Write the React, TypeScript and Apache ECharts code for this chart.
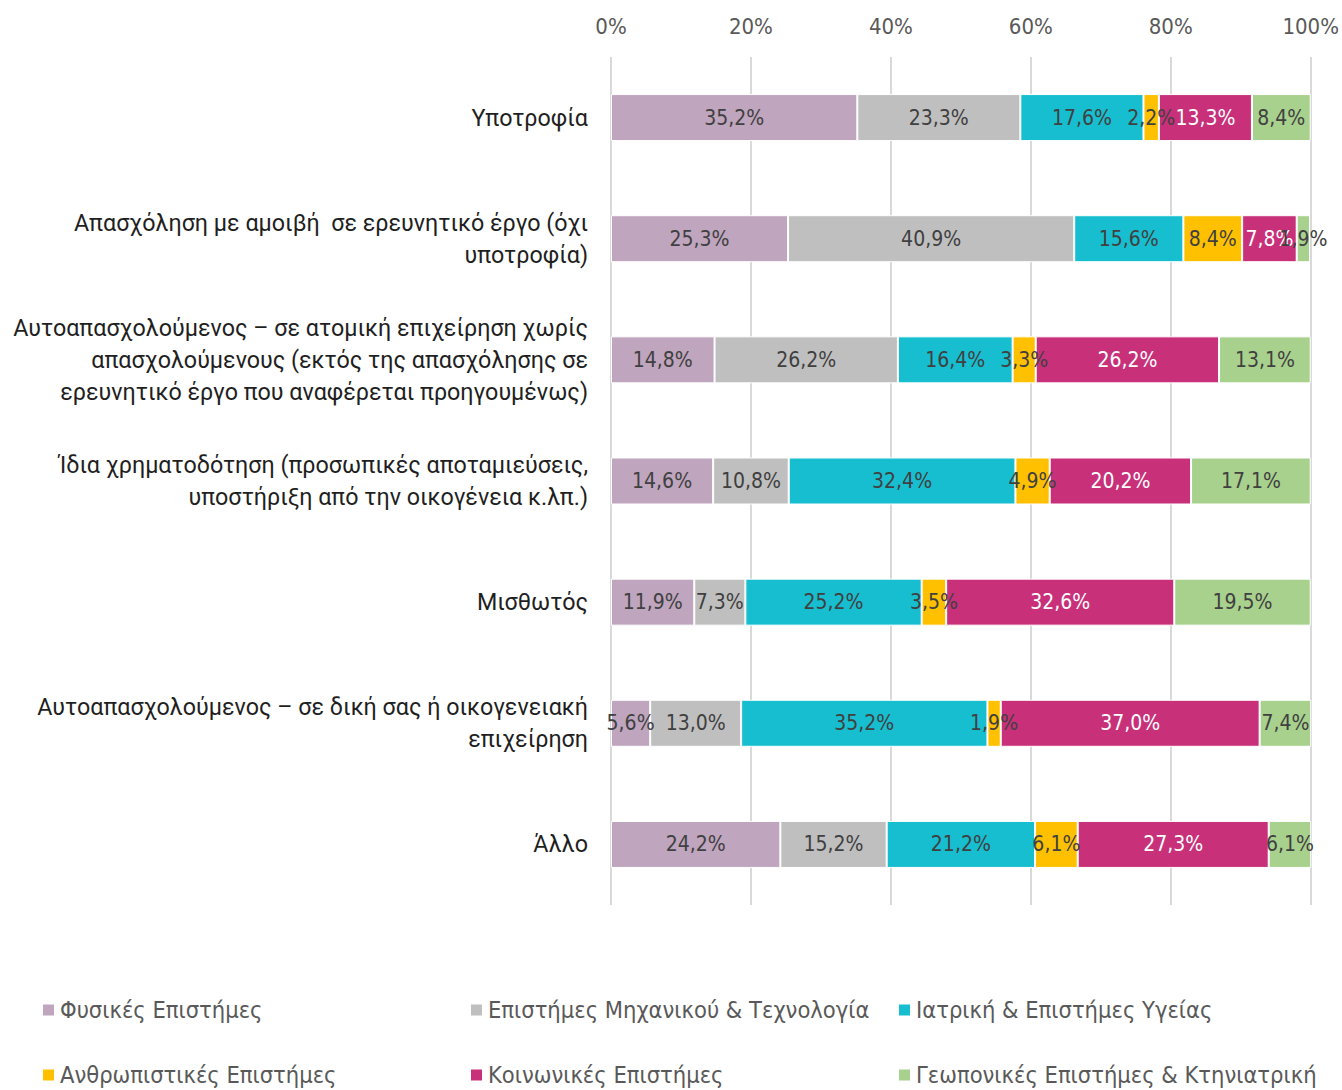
import React, { useEffect, useRef } from "react";
import * as echarts from "echarts";

const categories = [
  "Υποτροφία",
  "Απασχόληση με αμοιβή  σε ερευνητικό έργο (όχι\nυποτροφία)",
  "Αυτοαπασχολούμενος – σε ατομική επιχείρηση χωρίς\nαπασχολούμενους (εκτός της απασχόλησης σε\nερευνητικό έργο που αναφέρεται προηγουμένως)",
  "Ίδια χρηματοδότηση (προσωπικές αποταμιεύσεις,\nυποστήριξη από την οικογένεια κ.λπ.)",
  "Μισθωτός",
  "Αυτοαπασχολούμενος – σε δική σας ή οικογενειακή\nεπιχείρηση",
  "Άλλο",
];

const seriesNames = [
  "Φυσικές Επιστήμες",
  "Επιστήμες Μηχανικού & Τεχνολογία",
  "Ιατρική & Επιστήμες Υγείας",
  "Ανθρωπιστικές Επιστήμες",
  "Κοινωνικές Επιστήμες",
  "Γεωπονικές Επιστήμες & Κτηνιατρική",
];

const physical = [35.2, 25.3, 14.8, 14.6, 11.9, 5.6, 24.2];
const engineering = [23.3, 40.9, 26.2, 10.8, 7.3, 13.0, 15.2];
const medical = [17.6, 15.6, 16.4, 32.4, 25.2, 35.2, 21.2];
const humanities = [2.2, 8.4, 3.3, 4.9, 3.5, 1.9, 6.1];
const social = [13.3, 7.8, 26.2, 20.2, 32.6, 37.0, 27.3];
const agricultural = [8.4, 1.9, 13.1, 17.1, 19.5, 7.4, 6.1];

const seriesValues = [physical, engineering, medical, humanities, social, agricultural];
const colors = ["#BFA5BE", "#BFBFBF", "#17BECF", "#FFC000", "#C8307A", "#A9D18E"];
const labelColors = ["#404040", "#404040", "#404040", "#404040", "#FFFFFF", "#404040"];

const xTicks = [0, 20, 40, 60, 80, 100];

const condensed = "'DejaVu Sans Condensed', 'Roboto', sans-serif";

export default function App() {
  const ref = useRef<HTMLDivElement>(null);
  useEffect(() => {
    if (!ref.current) return;
    const chart = echarts.init(ref.current, null, { renderer: "svg" });
    const legendPos = [
      [41, 998],
      [469, 998],
      [897, 998],
      [41, 1063],
      [469, 1063],
      [897, 1063],
    ];
    chart.setOption({
      animation: false,
      backgroundColor: "#FFFFFF",
      grid: { left: 611, right: 28, top: 57, bottom: 185, containLabel: false },
      xAxis: {
        type: "value",
        position: "top",
        min: xTicks[0],
        max: xTicks[xTicks.length - 1],
        interval: 20,
        axisLine: { show: false },
        axisTick: { show: false },
        axisLabel: {
          formatter: "{value}%",
          fontSize: 22,
          color: "#595959",
          fontFamily: condensed,
          margin: 20,
        },
        splitLine: { show: true, lineStyle: { color: "#D9D9D9", width: 2 } },
      },
      yAxis: {
        type: "category",
        inverse: true,
        data: categories,
        axisLine: { show: false },
        axisTick: { show: false },
        axisLabel: {
          fontSize: 23.3,
          color: "#1F1F1F",
          lineHeight: 32,
          margin: 23,
          align: "right",
          fontFamily: "Roboto, 'Noto Sans', sans-serif",
        },
      },
      legend: seriesNames.map((n, i) => ({
        data: [n],
        left: legendPos[i][0],
        top: legendPos[i][1],
        icon: "rect",
        itemWidth: 13,
        itemHeight: 13,
        itemGap: 4,
        padding: 0,
        textStyle: { fontSize: 23.5, color: "#595959", fontFamily: condensed },
      })),
      series: seriesNames.map((n, i) => ({
        name: n,
        type: "bar",
        stack: "total",
        barWidth: 47,
        data: seriesValues[i],
        itemStyle: { color: colors[i], borderColor: "#FFFFFF", borderWidth: 1 },
        label: {
          show: true,
          position: "inside",
          color: labelColors[i],
          fontSize: 21,
          fontFamily: condensed,
          formatter: (p: any) => p.value.toFixed(1).replace(".", ",") + "%",
        },
      })),
    });
    return () => chart.dispose();
  }, []);
  return (
    <div
      ref={ref}
      style={{ position: "fixed", left: 0, top: 0, width: 1342, height: 1090 }}
    />
  );
}
